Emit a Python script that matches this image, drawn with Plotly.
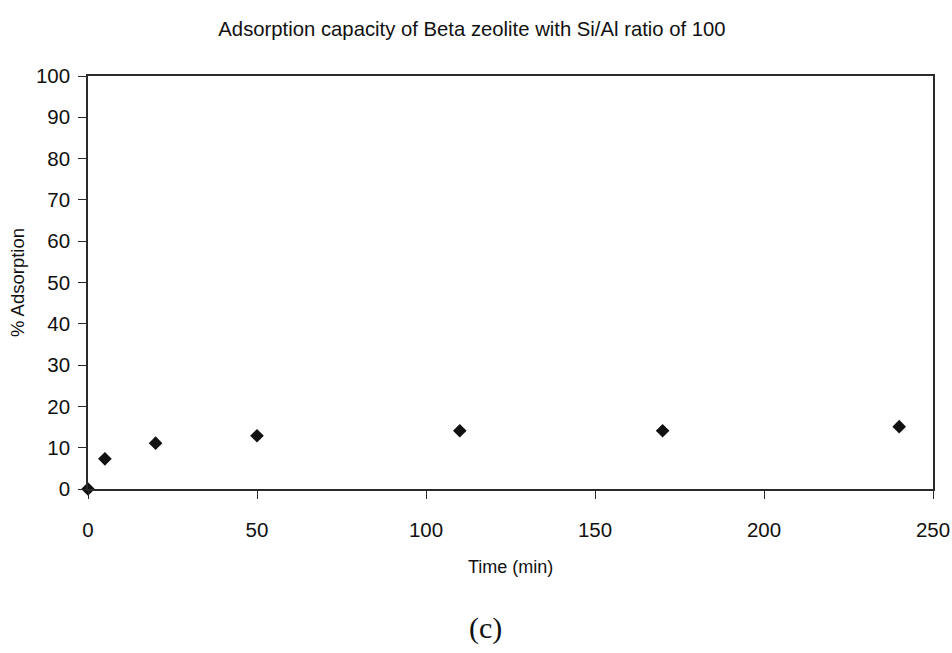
import plotly.graph_objects as go

# Contact time (min) and measured adsorption (%)
time_min = [0, 5, 20, 50, 110, 170, 240]
adsorption_pct = [0, 7.3, 11.1, 12.9, 14.1, 14.1, 15.1]

x_ticks = [0, 50, 100, 150, 200, 250]
y_ticks = [0, 10, 20, 30, 40, 50, 60, 70, 80, 90, 100]

SANS = "Liberation Sans, Arial"
INK = "#111111"

fig = go.Figure()
fig.add_trace(go.Scatter(
    x=time_min, y=adsorption_pct, mode="markers",
    marker=dict(symbol="diamond", size=10.5, color=INK),
    cliponaxis=False, showlegend=False,
))

axis_common = dict(
    showline=True, linecolor="#2a2a2a", linewidth=1.6, mirror=True,
    showgrid=False, zeroline=False, ticks="outside", ticklen=8,
    tickcolor="#2a2a2a", tickwidth=1.3, automargin=False,
    tickfont=dict(family=SANS, size=20.5, color=INK),
)

fig.update_layout(
    width=952, height=653,
    paper_bgcolor="white", plot_bgcolor="white",
    margin=dict(l=88, r=19, t=76, b=164),
    title=dict(
        text="Adsorption capacity of Beta zeolite with Si/Al ratio of 100",
        x=472 / 952, xanchor="center", xref="container",
        y=1 - 29 / 653, yanchor="middle", yref="container",
        font=dict(family=SANS, size=20.3, color=INK),
    ),
    xaxis=dict(range=[0, 250], tickvals=x_ticks, ticklabelstandoff=14, **axis_common),
    yaxis=dict(range=[0, 100], tickvals=y_ticks, ticklabelstandoff=4, **axis_common),
    annotations=[
        dict(text="Time (min)", xref="paper", yref="paper",
             x=0.5, y=1 - (567 - 76) / 413, xanchor="center", yanchor="middle",
             showarrow=False, font=dict(family=SANS, size=18, color=INK)),
        dict(text="% Adsorption", xref="paper", yref="paper", textangle=-90,
             x=-(88 - 17.5) / 845, y=0.5, xanchor="center", yanchor="middle",
             showarrow=False, font=dict(family=SANS, size=18.5, color=INK)),
        dict(text="(c)", xref="paper", yref="paper",
             x=(485.5 - 88) / 845, y=1 - (628 - 76) / 413,
             xanchor="center", yanchor="middle", showarrow=False,
             font=dict(family="Liberation Serif, Times New Roman", size=30, color=INK)),
    ],
)

fig.write_html("out.html")
